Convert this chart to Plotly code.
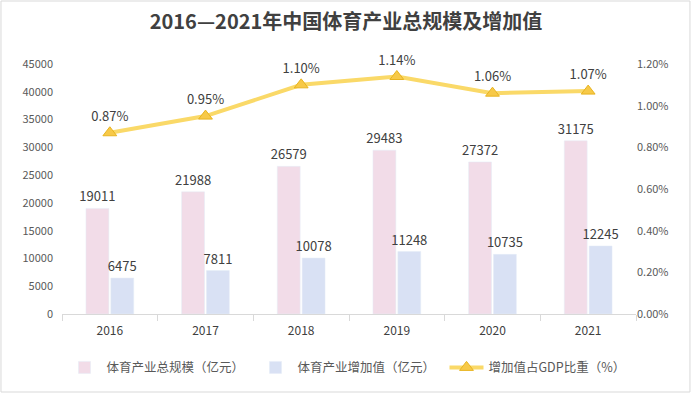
import plotly.graph_objects as go

years = ["2016", "2017", "2018", "2019", "2020", "2021"]
total_scale = [19011, 21988, 26579, 29483, 27372, 31175]
added_value = [6475, 7811, 10078, 11248, 10735, 12245]
gdp_share = [0.87, 0.95, 1.10, 1.14, 1.06, 1.07]

font_cjk = "Noto Sans CJK SC, Noto Sans, sans-serif"

fig = go.Figure()
fig.add_trace(go.Bar(
    x=years, y=total_scale, name="体育产业总规模（亿元）",
    marker=dict(color="#F2DCE8"),
    text=[str(v) for v in total_scale], textposition="outside",
    constraintext="none",
    textfont=dict(size=13, color="#404040"), cliponaxis=False,
))
fig.add_trace(go.Bar(
    x=years, y=added_value, name="体育产业增加值（亿元）",
    marker=dict(color="#D9E1F4"),
    text=[str(v) for v in added_value], textposition="outside",
    constraintext="none",
    textfont=dict(size=13, color="#404040"), cliponaxis=False,
))
fig.add_trace(go.Scatter(
    x=years, y=gdp_share, name="增加值占GDP比重（%）", yaxis="y2",
    mode="lines+markers+text",
    line=dict(color="#FAD968", width=4),
    marker=dict(symbol="triangle-up", size=12, color="#F7C948",
                line=dict(color="#E8B420", width=1)),
    text=[f"{v:.2f}%" for v in gdp_share], textposition="top center",
    textfont=dict(size=13, color="#404040"), cliponaxis=False,
))

fig.update_layout(
    width=692, height=394,
    margin=dict(l=62, r=56, t=64, b=80, autoexpand=False),
    paper_bgcolor="white", plot_bgcolor="white",
    font=dict(family=font_cjk, color="#595959"),
    title=dict(text="<b>2016—2021年中国体育产业总规模及增加值</b>",
               x=0.5, xanchor="center", y=0.945, yanchor="middle",
               font=dict(size=20, color="#404040", family=font_cjk)),
    barmode="group", bargap=0.48, bargroupgap=0.08,
    uniformtext=dict(minsize=13, mode="show"),
    showlegend=True,
    legend=dict(orientation="h", x=0.5, xanchor="center", y=-0.215, yanchor="middle",
                font=dict(size=12.5, color="#595959"), itemwidth=34,
                entrywidth=142, entrywidthmode="pixels",
                traceorder="normal"),
    xaxis=dict(showline=True, linecolor="#D9D9D9", linewidth=1,
               ticks="outside", tickcolor="#D9D9D9", ticklen=6,
               tickson="boundaries", showgrid=False, ticklabelstandoff=6,
               tickfont=dict(size=12, color="#404040")),
    yaxis=dict(range=[0, 45000], dtick=5000, showgrid=False, zeroline=False,
               showline=False, tickformat="d", automargin=False,
               tickfont=dict(size=11, color="#595959"),
               ticklabelstandoff=8),
    yaxis2=dict(range=[0, 1.2], dtick=0.2, overlaying="y", side="right",
                showgrid=False, zeroline=False, tickformat=".2f", ticksuffix="%",
                automargin=False,
                tickfont=dict(size=11, color="#595959")),
    shapes=[dict(type="rect", xref="paper", yref="paper",
                 x0=-0.1063, x1=1.094, y0=-0.312, y1=1.252,
                 line=dict(color="#D9D9D9", width=1), fillcolor="rgba(0,0,0,0)")],
)

fig.write_html("out.html", config={"displayModeBar": False},
               post_script="document.body.style.margin='0';document.body.style.overflow='hidden';")
